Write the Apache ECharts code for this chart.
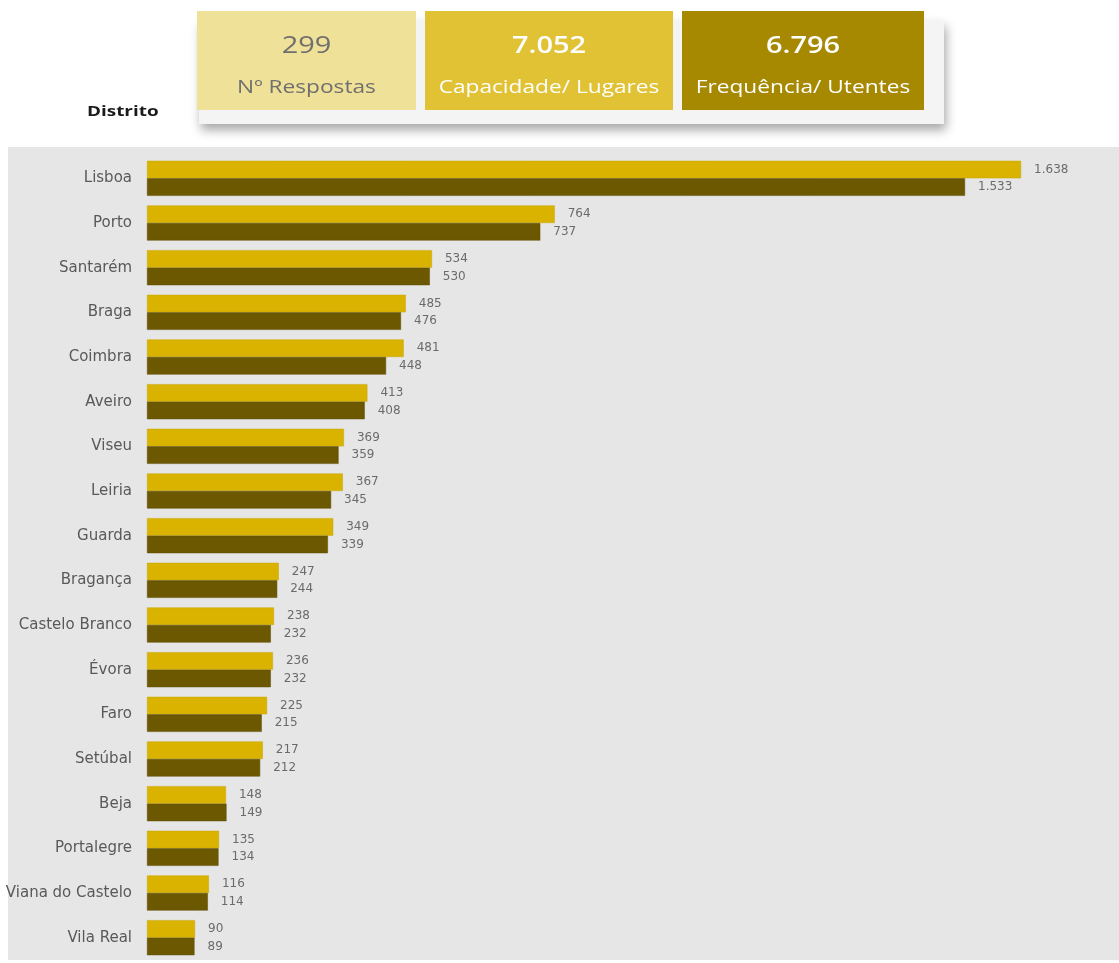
<!DOCTYPE html>
<html><head><meta charset="utf-8">
<script src="https://cdn.jsdelivr.net/npm/echarts@6/dist/echarts.min.js"></script>
<style>html,body{margin:0;padding:0;background:#fff}#c{width:1119px;height:963px}</style>
</head><body><div id="c"></div>
<script>
const categories = ['Lisboa','Porto','Santarém','Braga','Coimbra','Aveiro','Viseu','Leiria','Guarda','Bragança','Castelo Branco','Évora','Faro','Setúbal','Beja','Portalegre','Viana do Castelo','Vila Real'];
const capacidade = [1638,764,534,485,481,413,369,367,349,247,238,236,225,217,148,135,116,90];
const frequencia = [1533,737,530,476,448,408,359,345,339,244,232,232,215,212,149,134,114,89];
const summaryValues = ['299','7.052','6.796'];
const summaryLabels = ['Nº Respostas','Capacidade/ Lugares','Frequência/ Utentes'];

const fmt = v => { const s = String(v); return s.length > 3 ? s.slice(0, s.length-3) + '.' + s.slice(-3) : s; };
const hfont = '"Open Sans", "Noto Sans", sans-serif';
const afont = '"DejaVu Sans", "Noto Sans", sans-serif';
const SX = 1.26;

const boxes = [
  {x:197, w:219, fill:'#f0e198', tc:'#6f6f6f', nw:'normal'},
  {x:425, w:248, fill:'#e0c234', tc:'#ffffff', nw:'600'},
  {x:682, w:242, fill:'#a68900', tc:'#ffffff', nw:'600'}
];
const graphics = [
  {type:'rect', z:-10, shape:{x:8,y:147,width:1111,height:813}, style:{fill:'#e6e6e6'}},
  {type:'rect', z:-5, shape:{x:199,y:20,width:745,height:104}, style:{fill:'#f4f4f4', shadowBlur:10, shadowColor:'rgba(0,0,0,0.35)', shadowOffsetY:6, shadowOffsetX:2}},
  {type:'text', x:87, y:112, scaleX:SX, style:{text:'Distrito', font:'bold 15px ' + hfont, fill:'#1a1a1a', verticalAlign:'middle'}}
];
boxes.forEach((b,i) => {
  graphics.push({type:'rect', shape:{x:b.x,y:11,width:b.w,height:99}, style:{fill:b.fill}});
  graphics.push({type:'text', x:b.x+b.w/2, y:46, scaleX:SX, style:{text:summaryValues[i], font:b.nw + ' 23px ' + hfont, fill:b.tc, align:'center', verticalAlign:'middle'}});
  graphics.push({type:'text', x:b.x+b.w/2, y:88, scaleX:SX, style:{text:summaryLabels[i], font:'18px ' + hfont, fill:b.tc, align:'center', verticalAlign:'middle'}});
});

const chart = echarts.init(document.getElementById('c'));
chart.setOption({
  animation:false,
  graphic: graphics,
  grid:{left:147, top:156, width:960.5, height:804, containLabel:false},
  xAxis:{type:'value', min:0, max:1800, show:false},
  yAxis:{type:'category', data:categories, inverse:true, axisLine:{show:false}, axisTick:{show:false},
    axisLabel:{color:'#595959', fontSize:15, fontFamily:afont, margin:15}},
  series:[
    {type:'bar', name:'Capacidade', data:capacidade, barGap:'0%', barCategoryGap:'21.5%',
      itemStyle:{color:'#d9b300', borderColor:'#c9a600', borderWidth:0.5},
      label:{show:true, position:'right', distance:13, color:'#6b6b6b', fontSize:12, fontFamily:afont, formatter:p=>fmt(p.value)}},
    {type:'bar', name:'Frequência', data:frequencia, barGap:'0%', barCategoryGap:'21.5%',
      itemStyle:{color:'#6b5800', borderColor:'#5e4d00', borderWidth:0.5},
      label:{show:true, position:'right', distance:13, color:'#6b6b6b', fontSize:12, fontFamily:afont, formatter:p=>fmt(p.value)}}
  ]
});
</script></body></html>
